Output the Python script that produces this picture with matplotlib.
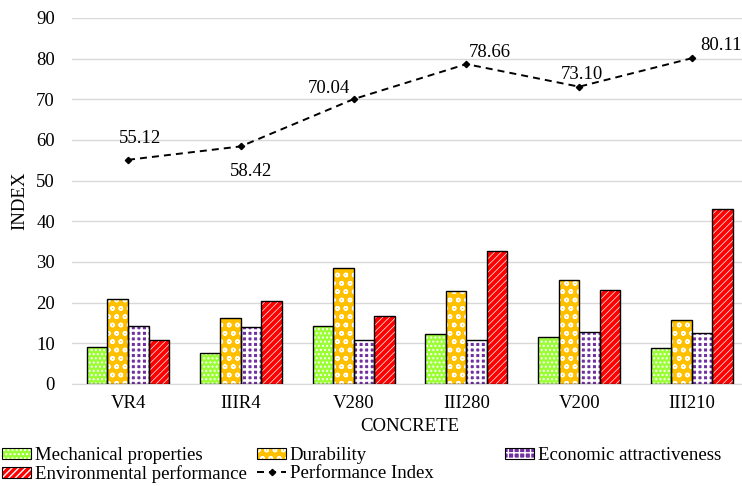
import numpy as np
import matplotlib
matplotlib.use('Agg')
import matplotlib.pyplot as plt
from matplotlib.legend_handler import HandlerTuple

plt.rcParams['font.family'] = ['Liberation Serif', 'DejaVu Serif']
plt.rcParams['hatch.linewidth'] = 1.0
FS = 13.5

concretes = ['VR4', 'IIIR4', 'V280', 'III280', 'V200', 'III210']
mechanical = [9.0, 7.7, 14.2, 12.2, 11.6, 8.8]
durability = [21.0, 16.2, 28.5, 22.9, 25.5, 15.7]
economic = [14.2, 14.0, 10.7, 10.9, 12.8, 12.5]
environmental = [10.9, 20.5, 16.6, 32.6, 23.2, 43.0]
perf_index = [55.12, 58.42, 70.04, 78.66, 73.10, 80.11]

# baseline offsets (points) for the performance index labels
label_offsets = [(8.6, 12), (7.5, -21.6), (-18, 4.3), (17, 5), (2, 5.8), (21, 5.8)]

fig = plt.figure(figsize=(7.42, 4.86), dpi=100)
# the original figure was cropped on the right, so the axes run past the edge
ax = fig.add_axes([0.0965, 0.210, 0.912, 0.753])

x = np.arange(len(concretes))
w = 0.182
series = [
  ('Mechanical properties', mechanical, '#99FF33', 'white', '....', 1.0),
  ('Durability', durability, '#FFC000', 'white', 'oo', 1.0),
  ('Economic attractiveness', economic, '#7030A0', 'white', '+++', 1.8),
  ('Environmental performance', environmental, '#FF0000', 'white', '/////', 0.5),
]

handles = []
for i, (name, vals, fc, hc, hatch, hlw) in enumerate(series):
  pos = x + (i - 1.5) * w
  with plt.rc_context({'hatch.linewidth': hlw}):
    ax.bar(pos, vals, w, color=fc, edgecolor=hc, hatch=hatch, linewidth=0, zorder=2)
    h1 = plt.Rectangle((0, 0), 1, 1, facecolor=fc, edgecolor=hc, hatch=hatch, linewidth=0)
  ax.bar(pos, vals, w, fill=False, edgecolor='black', linewidth=1.0, zorder=3)
  h2 = plt.Rectangle((0, 0), 1, 1, fill=False, edgecolor='black', linewidth=0.8)
  handles.append(((h1, h2), name))

line, = ax.plot(x, perf_index, color='black', linestyle=(0, (3.6, 2.6)), linewidth=1.4,
                marker='D', markersize=3.2, zorder=4)
for xi, v, off in zip(x, perf_index, label_offsets):
  ax.annotate(f'{v:.2f}', (xi, v), xytext=off, textcoords='offset points',
              ha='center', va='baseline', fontsize=FS)
handles.append((line, 'Performance Index'))

ax.set_xlim(-0.5, len(concretes) - 0.5)
ax.set_ylim(0, 90)
ax.set_yticks(range(0, 91, 10))
ax.set_xticks(x)
ax.set_xticklabels(concretes)
ax.tick_params(axis='both', length=0, labelsize=FS)
ax.tick_params(axis='y', pad=12)
ax.tick_params(axis='x', pad=8)
ax.yaxis.grid(True, color='#D9D9D9', linewidth=1.0, zorder=0)
ax.set_axisbelow(True)
for s in ['left', 'right', 'top']:
  ax.spines[s].set_visible(False)
ax.spines['bottom'].set_color('#D9D9D9')
ax.set_ylabel('INDEX', fontsize=FS, labelpad=6)
ax.set_xlabel('CONCRETE', fontsize=FS, labelpad=4)

# legend as three columns placed where the original puts them
columns = [([0, 3], 2), ([1, 4], 257), ([2], 505)]
for idx, px in columns:
  leg = fig.legend([handles[i][0] for i in idx], [handles[i][1] for i in idx],
                   handler_map={tuple: HandlerTuple(ndivide=1)},
                   loc='upper left', bbox_to_anchor=(px / 742, 1 - 447 / 486),
                   frameon=False, fontsize=FS, handlelength=1.55, handleheight=0.55,
                   handletextpad=0.2, labelspacing=0.05, borderpad=0, borderaxespad=0)

fig.savefig('out.png', dpi=100)
